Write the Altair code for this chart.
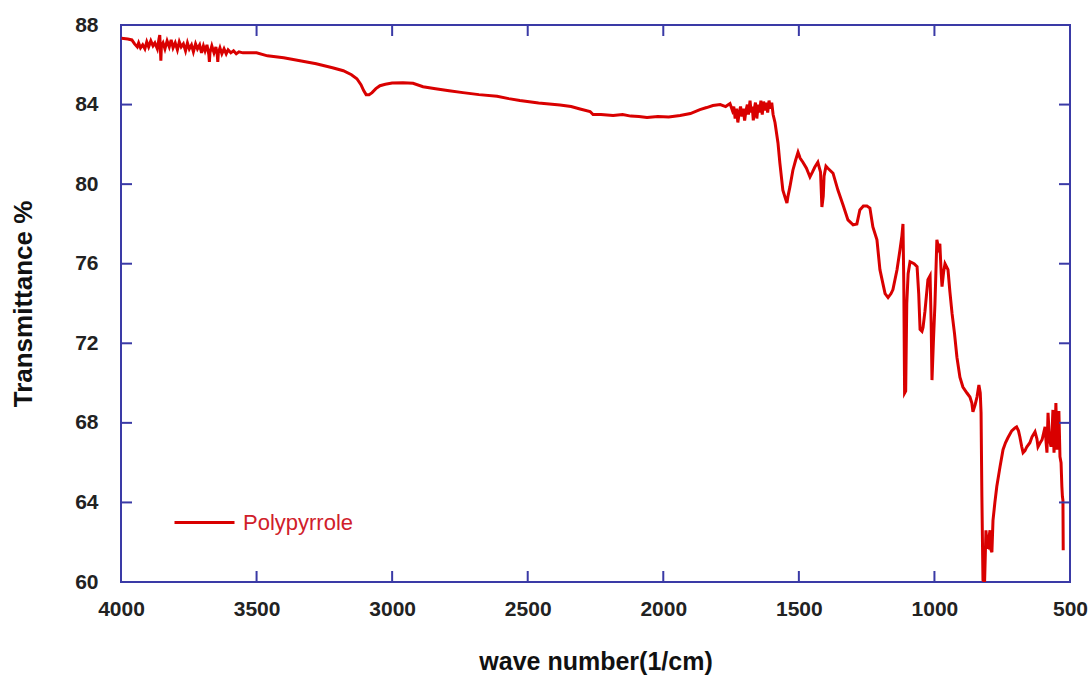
import altair as alt
import pandas as pd

# FTIR spectrum of polypyrrole: wavenumber (1/cm) and transmittance (%)
wavenumber = [
    3998, 3975, 3960, 3950, 3940, 3935, 3928, 3920, 3912, 3905, 3898, 3890, 3882,
    3875, 3866, 3860, 3857, 3855, 3853, 3851, 3845, 3838, 3830, 3822, 3815, 3808,
    3800, 3792, 3785, 3778, 3770, 3762, 3755, 3748, 3740, 3733, 3725, 3718, 3710,
    3703, 3696, 3690, 3683, 3676, 3674, 3672, 3665, 3657, 3650, 3645, 3643, 3641,
    3635, 3628, 3620, 3612, 3605, 3595, 3585, 3575, 3565, 3550,
    3500, 3460, 3400, 3340, 3280, 3220, 3180, 3150, 3130, 3115, 3105, 3096, 3085,
    3074, 3060, 3045, 3025, 3000, 2960, 2923, 2886, 2840, 2790, 2739, 2680, 2613,
    2570, 2529, 2460, 2381, 2340, 2307, 2270, 2259, 2230, 2185, 2150, 2120, 2090,
    2060, 2020, 1980, 1938, 1900, 1865, 1840, 1817, 1790, 1770, 1754,
    1745, 1740, 1735, 1730, 1725, 1720, 1715, 1710, 1705, 1700, 1695, 1690, 1686,
    1680, 1676, 1672, 1668, 1664, 1660, 1655, 1650, 1645, 1640, 1635, 1630, 1625,
    1620, 1615, 1610, 1605, 1600, 1595, 1588, 1577, 1570, 1559, 1550, 1544, 1540,
    1533, 1522, 1512, 1503, 1495, 1485, 1472, 1459, 1450, 1441, 1430, 1420, 1415,
    1410, 1407, 1400, 1393, 1374, 1356, 1337, 1319, 1300, 1286, 1275, 1262, 1249,
    1238, 1227, 1212, 1201, 1190, 1182, 1171, 1160, 1153, 1138, 1127, 1120, 1116,
    1113, 1110, 1106, 1102, 1097, 1090, 1075, 1064, 1058, 1053, 1046, 1042, 1035,
    1024, 1016, 1012, 1009, 1004, 998, 991, 985, 980, 975, 972, 966, 961, 950, 943,
    935, 926, 917, 906, 895, 880, 869, 862, 858, 850, 843, 836, 831, 828, 825, 821,
    815, 810, 806, 802, 798, 795, 791, 788, 784, 777, 770, 758, 747, 738, 729, 715,
    703, 697, 690, 685, 678, 673, 666, 659, 648, 640, 629, 622, 618, 610, 603, 597,
    592, 588, 585, 581, 576, 570, 566, 563, 559, 555, 552, 548, 544, 541, 537, 533,
    530, 528, 526, 525,
]
transmittance = [
    87.33, 87.30, 87.25, 87.05, 86.90, 87.10, 86.85, 87.00, 86.80, 87.15, 86.90, 87.20, 86.95,
    87.10, 86.80, 87.30, 87.50, 86.90, 86.20, 86.95, 87.10, 86.80, 87.20, 86.90, 87.25, 86.85,
    87.10, 86.75, 87.15, 86.90, 87.05, 86.70, 87.10, 86.80, 87.00, 86.65, 87.05, 86.80, 87.00,
    86.60, 86.95, 86.70, 87.00, 86.50, 86.15, 86.60, 86.95, 86.60, 86.90, 86.50, 86.15, 86.60,
    86.85, 86.55, 86.80, 86.55, 86.75, 86.60, 86.70, 86.55, 86.65, 86.60,
    86.60, 86.45, 86.35, 86.20, 86.05, 85.85, 85.70, 85.50, 85.30, 85.00, 84.70, 84.50, 84.50,
    84.60, 84.80, 84.95, 85.02, 85.08, 85.10, 85.07, 84.90, 84.80, 84.70, 84.60, 84.50, 84.42,
    84.30, 84.20, 84.08, 83.98, 83.90, 83.78, 83.65, 83.50, 83.50, 83.45, 83.50, 83.42, 83.40,
    83.35, 83.40, 83.38, 83.45, 83.55, 83.75, 83.85, 83.95, 84.00, 83.90, 84.05,
    83.70, 83.90, 83.30, 83.80, 83.10, 83.60, 83.90, 83.40, 83.80, 83.20, 83.70, 84.00, 83.50,
    84.20, 83.60, 83.90, 83.20, 83.80, 84.10, 83.30, 84.00, 83.60, 84.20, 83.50, 84.15, 83.70,
    84.10, 83.60, 84.20, 83.80, 84.10, 83.50, 83.10, 82.07, 81.06, 79.70, 79.30, 79.05, 79.40,
    79.86, 80.70, 81.20, 81.60, 81.30, 81.10, 80.80, 80.36, 80.60, 80.86, 81.10, 80.60, 78.85,
    79.40, 80.40, 80.90, 80.80, 80.55, 79.70, 78.95, 78.20, 77.95, 78.00, 78.70, 78.90, 78.90,
    78.80, 77.85, 77.20, 75.70, 75.00, 74.50, 74.30, 74.50, 74.70, 75.70, 76.70, 77.40, 78.00,
    75.00, 69.50, 69.60, 74.00, 75.50, 76.10, 76.00, 75.85, 74.50, 72.70, 72.60, 72.80, 73.60,
    75.20, 75.40, 73.00, 70.15, 72.00, 74.00, 77.20, 76.80, 77.00, 75.50, 74.85, 75.60, 76.00, 75.70, 74.60,
    73.50, 72.50, 71.30, 70.30, 69.80, 69.50, 69.30, 69.00, 68.55, 68.90, 69.30, 69.90, 69.50, 68.50, 64.30, 60.10,
    60.00, 62.60, 61.80, 61.75, 62.30, 62.60, 61.60, 61.50, 63.10, 64.00, 64.80, 65.80, 66.65, 67.00, 67.25, 67.60,
    67.75, 67.80, 67.60, 67.30, 66.80, 66.50, 66.60, 66.80, 67.00, 67.30, 67.55, 67.20, 66.80, 67.00, 67.15, 67.50,
    67.80, 67.00, 66.50, 68.50, 67.20, 66.80, 67.60, 68.65, 66.50, 67.50, 69.00, 66.65, 67.80, 68.60, 66.30, 66.00,
    64.80, 64.30, 64.10, 61.60,
]

x_ticks = [4000, 3500, 3000, 2500, 2000, 1500, 1000, 500]
y_ticks = [60, 64, 68, 72, 76, 80, 84, 88]

W, H = 949, 557
TICK_LEN = 11
FRAME_BLUE = "#3a3aa6"
LINE_RED = "#d90000"
FONT = "Liberation Sans"

spectrum = pd.DataFrame({
    "wavenumber": wavenumber,
    "transmittance": transmittance,
    "sample": "Polypyrrole",
})
x_tick_df = pd.DataFrame({"wavenumber": x_ticks})
y_tick_df = pd.DataFrame({"transmittance": y_ticks})

x_scale = alt.Scale(domain=[500, 4000], reverse=True, nice=False, zero=False)
y_scale = alt.Scale(domain=[60, 88], nice=False, zero=False)

x_axis = alt.Axis(
    values=x_ticks, format="d", title="wave number(1/cm)", grid=False, ticks=False, domain=False,
    labelFont=FONT, labelFontSize=21, labelFontWeight="bold", labelColor="#222222",
    labelPadding=16, labelFlush=False,
    titleFont=FONT, titleFontSize=25, titleFontWeight="bold", titleColor="#111111",
    titlePadding=30,
)
y_axis = alt.Axis(
    values=y_ticks, format="d", title="Transmittance %", grid=False, ticks=False, domain=False,
    labelFont=FONT, labelFontSize=21, labelFontWeight="bold", labelColor="#222222",
    labelPadding=23, labelFlush=False,
    titleFont=FONT, titleFontSize=26, titleFontWeight="bold", titleColor="#111111",
    titlePadding=38,
)

X = alt.X("wavenumber:Q", scale=x_scale, axis=x_axis)
Y = alt.Y("transmittance:Q", scale=y_scale, axis=y_axis)

line = alt.Chart(spectrum).mark_line(strokeWidth=3, clip=True).encode(
    x=X,
    y=Y,
    color=alt.Color(
        "sample:N",
        scale=alt.Scale(range=[LINE_RED]),
        legend=alt.Legend(
            title=None, orient="none", legendX=52, legendY=466,
            symbolType="stroke", symbolSize=3600, symbolStrokeWidth=3,
            labelFont=FONT, labelFontSize=22, labelColor="#d0202a", labelOffset=7,
        ),
    ),
)

# inward-pointing ticks on all four sides of the frame
bottom_ticks = alt.Chart(x_tick_df).mark_rule(color=FRAME_BLUE, strokeWidth=2).encode(
    x=X, y=alt.value(H - TICK_LEN), y2=alt.value(H))
top_ticks = alt.Chart(x_tick_df).mark_rule(color=FRAME_BLUE, strokeWidth=2).encode(
    x=X, y=alt.value(0), y2=alt.value(TICK_LEN))
left_ticks = alt.Chart(y_tick_df).mark_rule(color=FRAME_BLUE, strokeWidth=2).encode(
    y=Y, x=alt.value(0), x2=alt.value(TICK_LEN))
right_ticks = alt.Chart(y_tick_df).mark_rule(color=FRAME_BLUE, strokeWidth=2).encode(
    y=Y, x=alt.value(W - TICK_LEN), x2=alt.value(W))

chart = alt.layer(line, bottom_ticks, top_ticks, left_ticks, right_ticks).properties(
    width=W,
    height=H,
    autosize=alt.AutoSizeParams(type="none"),
    padding={"left": 121, "top": 25, "right": 20, "bottom": 96},
    background="white",
).configure_view(stroke=FRAME_BLUE, strokeWidth=2)

chart.save("out.html", embed_options={"renderer": "svg", "actions": False})
